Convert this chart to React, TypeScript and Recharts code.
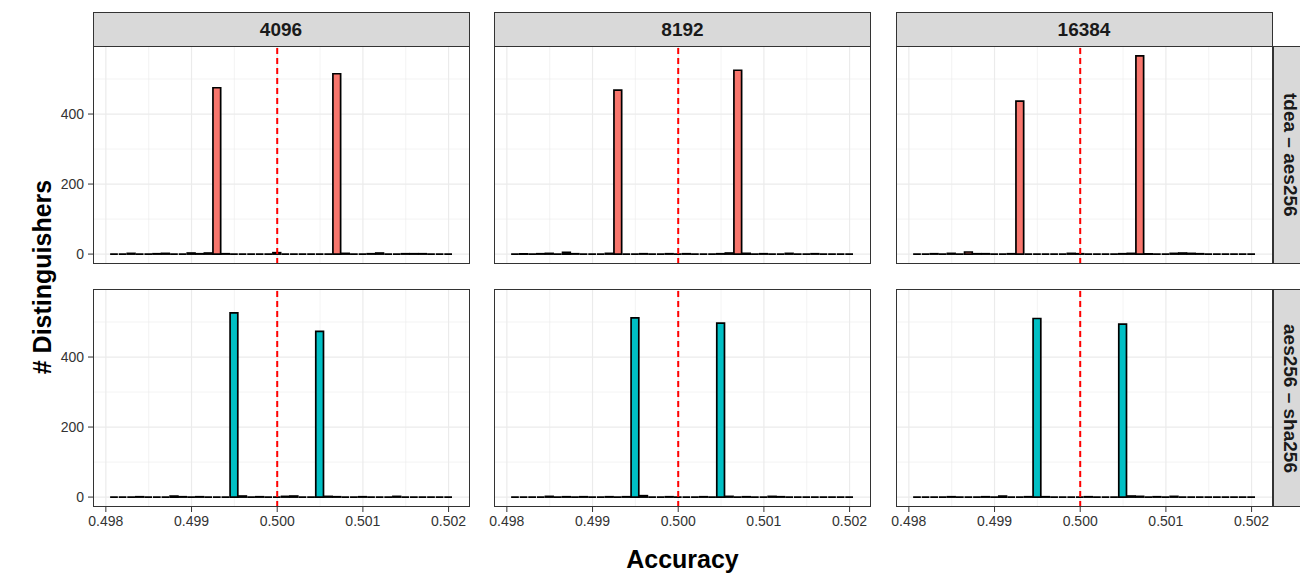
import { BarChart, Bar, XAxis, YAxis, CartesianGrid, ReferenceLine } from 'recharts';

// histogram bin centres (accuracy)
const bins = [
  0.4981, 0.4982, 0.4983, 0.4984, 0.4985, 0.4986, 0.4987, 0.4988, 0.4989, 0.499,
  0.4991, 0.4992, 0.4993, 0.4994, 0.4995, 0.4996, 0.4997, 0.4998, 0.4999, 0.5,
  0.5001, 0.5002, 0.5003, 0.5004, 0.5005, 0.5006, 0.5007, 0.5008, 0.5009, 0.501,
  0.5011, 0.5012, 0.5013, 0.5014, 0.5015, 0.5016, 0.5017, 0.5018, 0.5019, 0.502,
];

const sizes = ['4096', '8192', '16384'];
const pairs = ['tdea – aes256', 'aes256 – sha256'];

const tdea4096 = [0, 0, 2, 0, 0, 1, 2, 0, 0, 3, 1, 3, 475, 1, 0, 0, 0, 0, 0, 4, 0, 0, 0, 0, 0, 0, 515, 2, 0, 0, 1, 3, 0, 0, 1, 1, 1, 0, 0, 0];
const tdea8192 = [0, 1, 0, 1, 2, 0, 5, 1, 0, 0, 0, 2, 468, 0, 0, 1, 0, 0, 1, 0, 1, 0, 0, 0, 1, 3, 525, 2, 0, 1, 0, 0, 2, 0, 0, 1, 0, 0, 0, 0];
const tdea16384 = [0, 0, 1, 0, 2, 0, 6, 1, 1, 0, 0, 1, 437, 0, 0, 0, 0, 0, 2, 1, 0, 0, 0, 0, 1, 2, 566, 1, 0, 0, 2, 3, 2, 1, 0, 0, 0, 0, 0, 0];
const sha4096 = [0, 0, 0, 1, 0, 0, 0, 3, 1, 0, 1, 0, 0, 0, 526, 3, 0, 1, 0, 0, 2, 3, 0, 0, 473, 2, 1, 0, 0, 1, 0, 0, 0, 2, 0, 0, 0, 0, 0, 0];
const sha8192 = [0, 0, 0, 0, 2, 0, 1, 0, 1, 0, 0, 1, 0, 1, 512, 4, 0, 0, 1, 0, 0, 0, 1, 0, 497, 2, 0, 1, 0, 0, 2, 1, 0, 0, 0, 0, 0, 0, 0, 0];
const sha16384 = [0, 0, 0, 0, 1, 0, 0, 0, 1, 0, 3, 0, 0, 1, 510, 1, 0, 0, 0, 0, 1, 0, 0, 0, 494, 3, 2, 0, 1, 0, 2, 0, 0, 0, 0, 0, 0, 0, 0, 0];

const xTicks = [0.498, 0.499, 0.5, 0.501, 0.502];
const xMinor = [0.4985, 0.4995, 0.5005, 0.5015];
const yTicks = [0, 200, 400];
const yMinor = [100, 300, 500];

const rows = [
  { label: pairs[0], fill: '#F8766D', counts: [tdea4096, tdea8192, tdea16384] },
  { label: pairs[1], fill: '#00BFC4', counts: [sha4096, sha8192, sha16384] },
];

const FONT = '"Liberation Sans", Arial, Helvetica, sans-serif';
const colLeft = [92.5, 494, 895.5];
const rowTop = [46, 289];
const PW = 377;
const PH = 218;
const YAW = 45;
const XAH = 32;
const PAD = 22; // room for the first x tick label in cols 2/3

function HistBar(props: any) {
  const { x, y, width, height, fill } = props;
  if (x == null || y == null) return null;
  const d = `M${x},${y}h${width}v${height}h${-width}Z`;
  return <path d={d} fill={fill} stroke="#000" strokeWidth={1.7} />;
}

function Panel({ r, c }: { r: number; c: number }) {
  const row = rows[r];
  const data = bins.map((b, i) => ({ x: b, n: row.counts[c][i] }));
  const showY = c === 0;
  const showX = r === 1;
  const padL = showY ? YAW : showX ? PAD : 0;
  const padR = showX && c < 2 ? PAD : 0;
  const left = colLeft[c] - padL;
  const w = PW + padL + padR;
  const h = PH + (showX ? XAH : 0);
  return (
    <div style={{ position: 'absolute', left, top: rowTop[r], width: w, height: h }}>
      <BarChart
        width={w}
        height={h}
        data={data}
        margin={{ top: 0, right: padR, bottom: 0, left: showY ? 0 : padL }}
        barCategoryGap={0}
      >
        <CartesianGrid stroke="#EBEBEB" strokeWidth={0.6} verticalValues={xMinor} horizontalValues={yMinor} />
        <CartesianGrid stroke="#EBEBEB" strokeWidth={1.2} verticalValues={xTicks} horizontalValues={yTicks} />
        <XAxis
          dataKey="x"
          type="number"
          domain={[0.49785, 0.50225]}
          ticks={xTicks}
          interval={0}
          tickFormatter={(v: number) => v.toFixed(3)}
          hide={!showX}
          height={XAH}
          axisLine={false}
          tickSize={5}
          tickMargin={4}
          tickLine={{ stroke: '#333333' }}
          tick={{ fill: '#333333', fontSize: 14, fontFamily: FONT }}
          allowDataOverflow
        />
        <YAxis
          type="number"
          domain={[-28.3, 594.3]}
          ticks={yTicks}
          interval={0}
          hide={!showY}
          width={YAW}
          axisLine={false}
          tickSize={5}
          tickMargin={4}
          tickLine={{ stroke: '#333333' }}
          tick={{ fill: '#333333', fontSize: 14, fontFamily: FONT }}
          allowDataOverflow
        />
        <Bar dataKey="n" fill={row.fill} barSize={8.57} shape={HistBar} isAnimationActive={false} />
        <ReferenceLine x={0.5} stroke="#FF0000" strokeWidth={2} strokeDasharray="6 4" />
      </BarChart>
      <div
        style={{
          position: 'absolute',
          left: padL,
          top: 0,
          width: PW,
          height: PH,
          border: '1px solid #333333',
          boxSizing: 'border-box',
          pointerEvents: 'none',
        }}
      />
    </div>
  );
}

const stripText = { fontFamily: FONT, fontWeight: 700, fontSize: 19, color: '#1A1A1A' } as const;

export default function App() {
  return (
    <div
      style={{
        position: 'absolute',
        left: 0,
        top: 0,
        width: 1300,
        height: 575,
        overflow: 'hidden',
        background: '#fff',
        fontFamily: FONT,
      }}
    >
      {sizes.map((s, c) => (
        <div
          key={s}
          style={{
            ...stripText,
            position: 'absolute',
            left: colLeft[c],
            top: 12,
            width: PW,
            height: 35,
            background: '#D9D9D9',
            border: '1px solid #333333',
            boxSizing: 'border-box',
            display: 'flex',
            alignItems: 'center',
            justifyContent: 'center',
          }}
        >
          {s}
        </div>
      ))}
      {rows.map((row, r) => (
        <div
          key={row.label}
          style={{
            ...stripText,
            position: 'absolute',
            left: 1272.5,
            top: rowTop[r],
            width: 35,
            height: PH,
            background: '#D9D9D9',
            border: '1px solid #333333',
            boxSizing: 'border-box',
            display: 'flex',
            alignItems: 'center',
            justifyContent: 'center',
          }}
        >
          <span style={{ writingMode: 'vertical-rl', whiteSpace: 'nowrap' }}>{row.label}</span>
        </div>
      ))}
      {rows.map((row, r) => sizes.map((s, c) => <Panel key={`${r}-${c}`} r={r} c={c} />))}
      <div
        style={{
          position: 'absolute',
          left: 42 - 150,
          top: 277 - 15,
          width: 300,
          height: 30,
          lineHeight: '30px',
          textAlign: 'center',
          transform: 'rotate(-90deg)',
          fontWeight: 700,
          fontSize: 25,
          color: '#000',
        }}
      >
        # Distinguishers
      </div>
      <div
        style={{
          position: 'absolute',
          left: 682.5 - 150,
          top: 559 - 15,
          width: 300,
          height: 30,
          lineHeight: '30px',
          textAlign: 'center',
          fontWeight: 700,
          fontSize: 25,
          color: '#000',
        }}
      >
        Accuracy
      </div>
    </div>
  );
}
